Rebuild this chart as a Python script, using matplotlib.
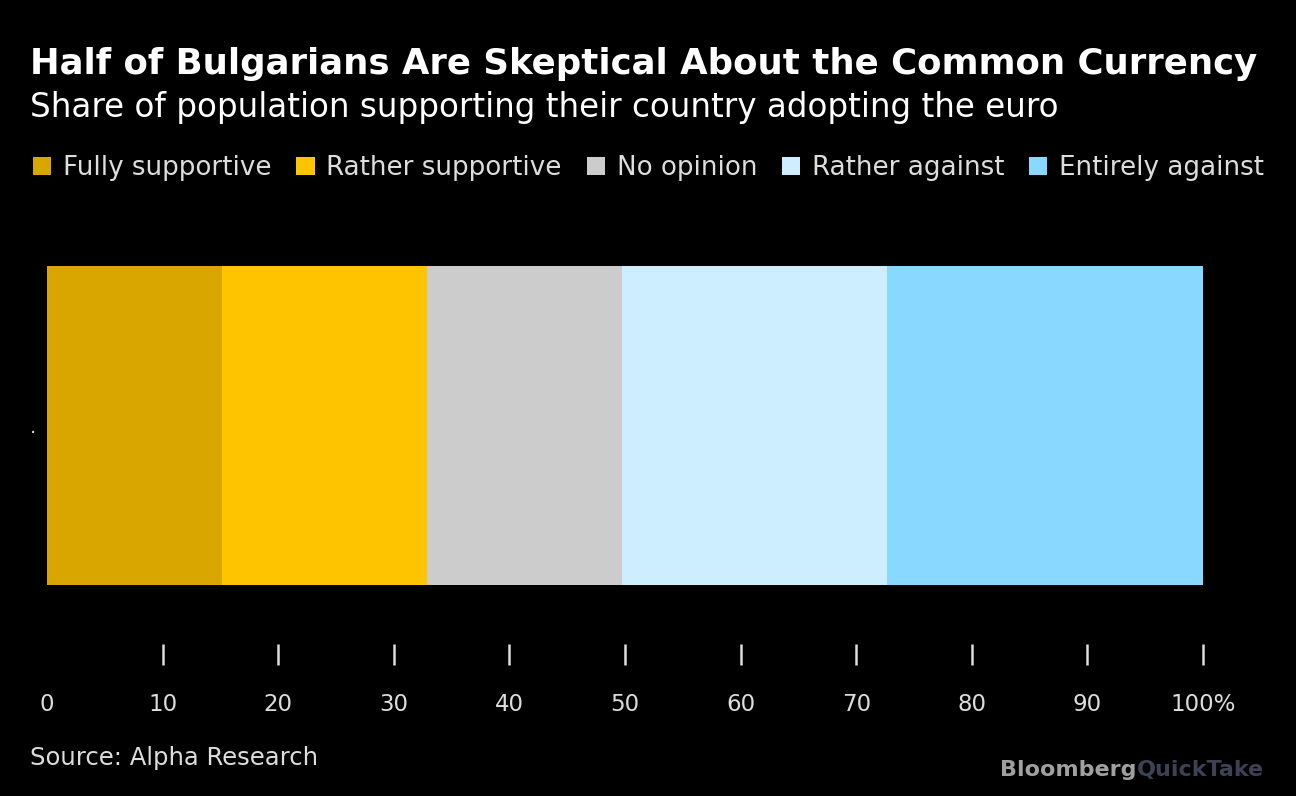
import matplotlib.pyplot as plt
import numpy as np

# survey shares, percent
categories = ['Fully supportive', 'Rather supportive', 'No opinion',
              'Rather against', 'Entirely against']
shares = [15.1, 17.8, 16.8, 23.0, 27.3]
colors = ['#d9a600', '#ffc400', '#cccccc', '#cceeff', '#88d8ff']
row_label = ['.']
xticks = [0, 10, 20, 30, 40, 50, 60, 70, 80, 90, 100]
xtick_labels = ['0', '10', '20', '30', '40', '50', '60', '70', '80', '90', '100%']

W, H = 1296, 796
fig = plt.figure(figsize=(W / 100, H / 100), dpi=100, facecolor='black')

# axes in pixel coords: left 47, right 1203, top 230, bottom 665
ax = fig.add_axes([47 / W, 1 - 665 / H, (1203 - 47) / W, (665 - 230) / H])
ax.set_facecolor('black')

left = 0
handles = []
for name, val, col in zip(categories, shares, colors):
    b = ax.barh(0, val, left=left, height=0.8, color=col, label=name)
    handles.append(b)
    left += val

ax.set_xlim(0, 100)
ax.set_ylim(-0.6006, 0.490)
for s in ax.spines.values():
    s.set_visible(False)

ax.set_xticks(xticks)
ax.set_xticklabels(xtick_labels, fontsize=16.5, color='#dddddd')
ax.tick_params(axis='x', direction='in', length=15, width=1.8, color='#dddddd', pad=20)
ax.xaxis.get_major_ticks()[0].tick1line.set_visible(False)

ax.set_yticks([0])
ax.set_yticklabels(row_label, fontsize=14, color='#dddddd')
ax.tick_params(axis='y', length=0, pad=8)

fig.text(30 / W, 1 - 64 / H, 'Half of Bulgarians Are Skeptical About the Common Currency',
         fontsize=25.6, fontweight='bold', color='white', va='center', ha='left')
fig.text(30 / W, 1 - 107 / H, 'Share of population supporting their country adopting the euro',
         fontsize=23.5, color='white', va='center', ha='left')

leg = fig.legend(handles=handles, loc='center left', bbox_to_anchor=(33 / W, 1 - 168 / H),
                 ncol=5, frameon=False, fontsize=18.8, handlelength=0.7, handleheight=0.7,
                 handletextpad=0.45, columnspacing=0.95, borderaxespad=0, borderpad=0)
for t in leg.get_texts():
    t.set_color('#dddddd')

fig.text(30 / W, 1 - 758 / H, 'Source: Alpha Research', fontsize=17.5, color='#dddddd',
         va='center', ha='left')

t1 = fig.text(1000 / W, 1 - 770 / H, 'Bloomberg', fontsize=16, fontweight='bold',
              color='#a0a0a0', va='center', ha='left')
fig.canvas.draw()
bb = t1.get_window_extent()
fig.text(bb.x1 / W, 1 - 770 / H, 'QuickTake', fontsize=16, fontweight='bold',
         color='#3c4254', va='center', ha='left')

fig.savefig('out.png', dpi=100, facecolor='black')
